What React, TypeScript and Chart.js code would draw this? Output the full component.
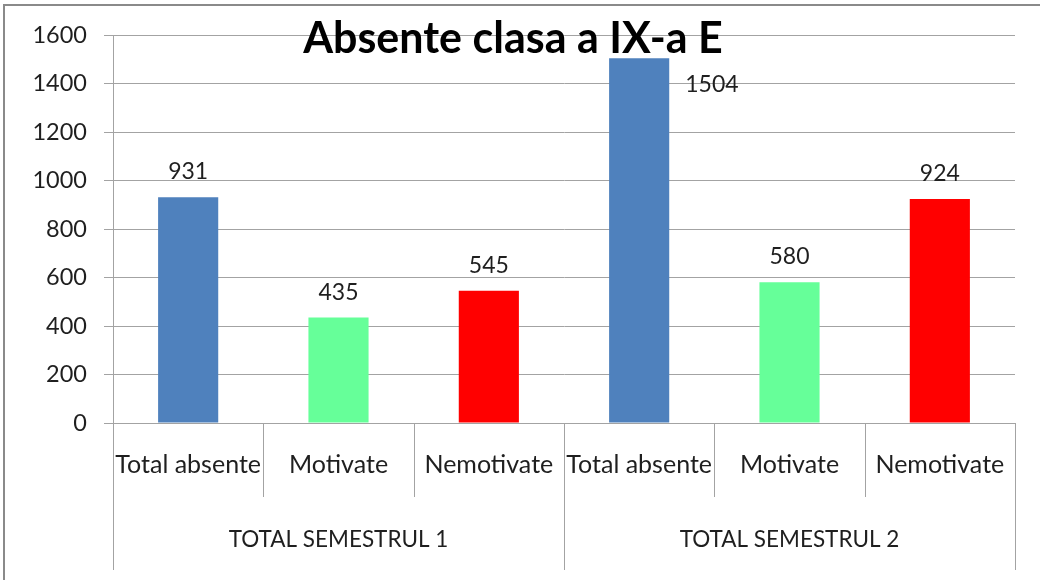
import React, { useEffect, useRef } from "react";
import { Chart, registerables } from "chart.js";

Chart.register(...registerables);

const titleText = "Absente clasa a IX-a E";
const subCategories = ["Total absente", "Motivate", "Nemotivate", "Total absente", "Motivate", "Nemotivate"];
const groupLabels = ["TOTAL SEMESTRUL 1", "TOTAL SEMESTRUL 2"];
const groupSizes = [3, 3];
const values = [931, 435, 545, 1504, 580, 924];
const barColors = ["#4F81BD", "#66FF99", "#FF0000", "#4F81BD", "#66FF99", "#FF0000"];
const yMin = 0;
const yMax = 1600;
const yStep = 200;

const FONT = "Lato, 'Open Sans', sans-serif";
const GRID = "#a3a3a3";
const TEXT = "#1f1f1f";

const decorPlugin = {
  id: "decor",
  afterDraw(chart: any) {
    const ctx = chart.ctx;
    const x = chart.scales.x;
    const area = chart.chartArea;
    const n = subCategories.length;
    const w = (area.right - area.left) / n;
    ctx.save();
    // separators
    ctx.strokeStyle = GRID;
    ctx.lineWidth = 1;
    const groupEdges = new Set<number>();
    let acc = 0;
    groupEdges.add(0);
    groupSizes.forEach((s) => {
      acc += s;
      groupEdges.add(acc);
    });
    for (let i = 0; i <= n; i++) {
      const px = Math.round(area.left + i * w) + 0.5;
      const bottom = groupEdges.has(i) ? 570 : 497;
      ctx.beginPath();
      ctx.moveTo(px, area.bottom);
      ctx.lineTo(px, bottom);
      ctx.stroke();
    }
    // sub labels
    ctx.fillStyle = TEXT;
    ctx.textAlign = "center";
    ctx.textBaseline = "alphabetic";
    ctx.font = `25px ${FONT}`;
    subCategories.forEach((lab, i) => {
      ctx.fillText(lab, x.getPixelForValue(i), 473);
    });
    // group labels
    ctx.font = `22.5px ${FONT}`;
    let start = 0;
    groupLabels.forEach((g, gi) => {
      const cx = area.left + (start + groupSizes[gi] / 2) * w;
      ctx.fillText(g, cx, 547);
      start += groupSizes[gi];
    });
    // data labels
    const meta = chart.getDatasetMeta(0);
    ctx.font = `23px ${FONT}`;
    meta.data.forEach((bar: any, i: number) => {
      const txt = String(values[i]);
      if (bar.y - 36 < area.top + 20) {
        ctx.textAlign = "left";
        ctx.fillText(txt, bar.x + bar.width / 2 + 16, bar.y + 34);
      } else {
        ctx.textAlign = "center";
        ctx.fillText(txt, bar.x, bar.y - 18);
      }
    });
    // title
    ctx.fillStyle = "#000";
    ctx.textAlign = "center";
    ctx.font = `bold 43px ${FONT}`;
    ctx.fillText(titleText, 513, 53);
    // outer border
    ctx.strokeStyle = "#8a8a8a";
    ctx.lineWidth = 2;
    ctx.strokeRect(4, 5, 1200, 800);
    ctx.restore();
  },
};

export default function App() {
  const ref = useRef<HTMLCanvasElement | null>(null);
  useEffect(() => {
    document.body.style.margin = "0";
    const chart = new Chart(ref.current as HTMLCanvasElement, {
      type: "bar",
      data: {
        labels: subCategories,
        datasets: [
          {
            data: values,
            backgroundColor: barColors,
            borderWidth: 0,
            barPercentage: 0.4,
            categoryPercentage: 1,
          },
        ],
      },
      options: {
        animation: false,
        responsive: false,
        maintainAspectRatio: false,
        layout: { padding: { top: 35, right: 25, left: 0, bottom: 0 } },
        plugins: { legend: { display: false }, tooltip: { enabled: false }, title: { display: false } },
        scales: {
          x: {
            grid: { display: false },
            border: { display: true, color: GRID },
            ticks: { display: false },
            afterFit(scale: any) {
              scale.height = 157;
            },
          },
          y: {
            min: yMin,
            max: yMax,
            ticks: {
              stepSize: yStep,
              padding: 17,
              color: TEXT,
              font: { family: FONT, size: 23.5 },
              callback: (v: any) => String(v),
            },
            grid: { color: GRID, tickLength: 9, drawTicks: true },
            border: { color: GRID },
            afterFit(scale: any) {
              scale.width = 113;
            },
          },
        },
      },
      plugins: [decorPlugin],
    });
    return () => chart.destroy();
  }, []);
  return (
    <div style={{ width: 1040, height: 580, background: "#fff" }}>
      <canvas ref={ref} width={1040} height={580} style={{ display: "block" }} />
    </div>
  );
}
